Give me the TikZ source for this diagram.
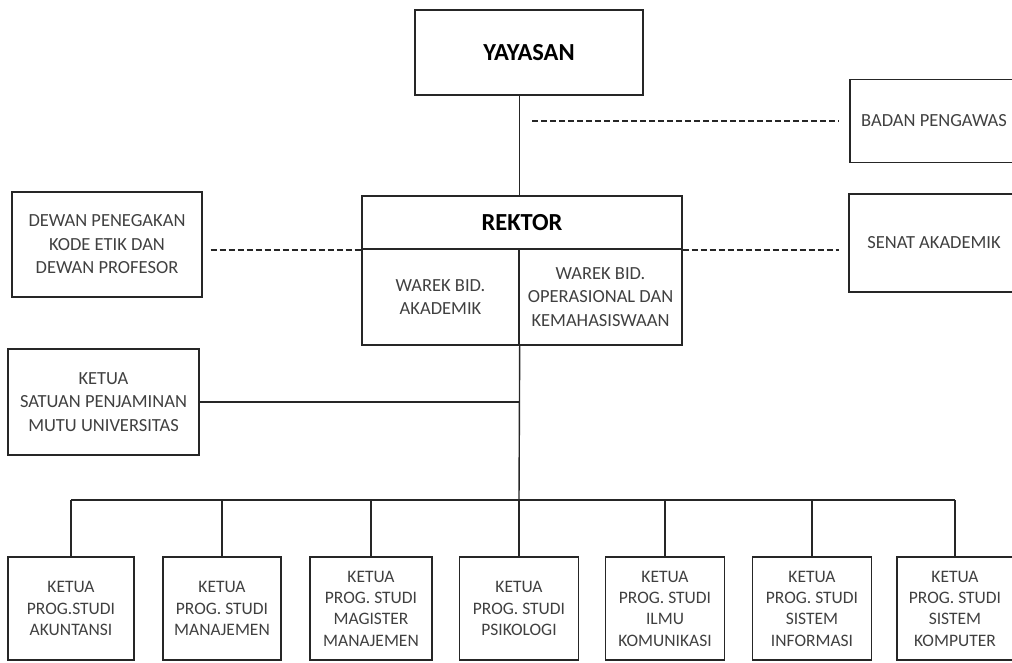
\documentclass[tikz,border=0pt]{standalone}
\usepackage{fontspec}
\setmainfont{Carlito}
\begin{document}
\begin{tikzpicture}[x=1pt,y=-1pt,
    box/.style={draw=black!85,line width=1.4pt,align=center,text=black!75,inner sep=0pt,
      font=\fontsize{18.5}{23.5}\selectfont},
    headbox/.style={box,text=black,font=\bfseries\fontsize{24.5}{28}\selectfont},
    prodi/.style={box,minimum height=103pt,font=\fontsize{17.5}{21.3}\selectfont},
    link/.style={draw=black!85,line width=1.4pt},
    dashline/.style={link,line width=1.7pt,dash pattern=on 6pt off 3pt}]

    \useasboundingbox (0,0) rectangle (1012,662);

    % top
    \node[headbox,minimum width=228pt,minimum height=85pt] (yayasan) at (529,52.5) {YAYASAN};
    \node[box,minimum width=168pt,minimum height=83pt] (badan) at (934,121) {BADAN PENGAWAS};

    % rektor block
    \node[headbox,minimum width=320pt,minimum height=53pt] (rektor) at (522,222.5) {REKTOR};
    \node[box,minimum width=157pt,minimum height=96pt] (warekA) at (440.5,297) {WAREK BID.\\AKADEMIK};
    \node[box,minimum width=163pt,minimum height=96pt] (warekB) at (600.5,297) {WAREK BID.\\OPERASIONAL DAN\\KEMAHASISWAAN};

    \node[box,minimum width=190pt,minimum height=105pt] (dewan) at (107,244.5) {DEWAN PENEGAKAN\\KODE ETIK DAN\\DEWAN PROFESOR};
    \node[box,minimum width=170pt,minimum height=98pt] (senat) at (934,243) {SENAT AKADEMIK};

    \node[box,minimum width=191pt,minimum height=106pt] (spmu) at (103.5,402) {KETUA\\SATUAN PENJAMINAN\\MUTU UNIVERSITAS};

    % program studi
    \foreach \x/\w/\name/\txt in {
        71/126/p1/{KETUA\\PROG.STUDI\\AKUNTANSI},
        222/118/p2/{KETUA\\PROG. STUDI\\MANAJEMEN},
        371/122/p3/{KETUA\\PROG. STUDI\\MAGISTER\\MANAJEMEN},
        519/119/p4/{KETUA\\PROG. STUDI\\PSIKOLOGI},
        665/119/p5/{KETUA\\PROG. STUDI\\ILMU\\KOMUNIKASI},
        812/119/p6/{KETUA\\PROG. STUDI\\SISTEM\\INFORMASI},
        955/116/p7/{KETUA\\PROG. STUDI\\SISTEM\\KOMPUTER}}
        \node[prodi,minimum width=\w pt] (\name) at (\x,608.5) {\txt};

    % lines
    \coordinate (bus) at (519,500);
    \coordinate (bp) at (532,121);
    \draw[link] (yayasan.south -| warekA.east) -- (rektor.north -| warekA.east);
    \draw[link] (warekA.south east) -- (bus);
    \draw[link] (spmu.east) -- (spmu.east -| bus);
    \draw[link] (bus -| p1.north) -- (bus -| p7.north);
    \foreach \i in {1,...,7}
        \draw[link] (p\i.north) -- (p\i.north |- bus);

    % dashed lines
    \draw[dashline] (bp) -- ([xshift=-10pt]badan.west);
    \draw[dashline] ([xshift=8pt]dewan.east |- rektor.south) -- (rektor.south west);
    \draw[dashline] (rektor.south east) -- ([xshift=-9pt]senat.west |- rektor.south);

\end{tikzpicture}
\end{document}
